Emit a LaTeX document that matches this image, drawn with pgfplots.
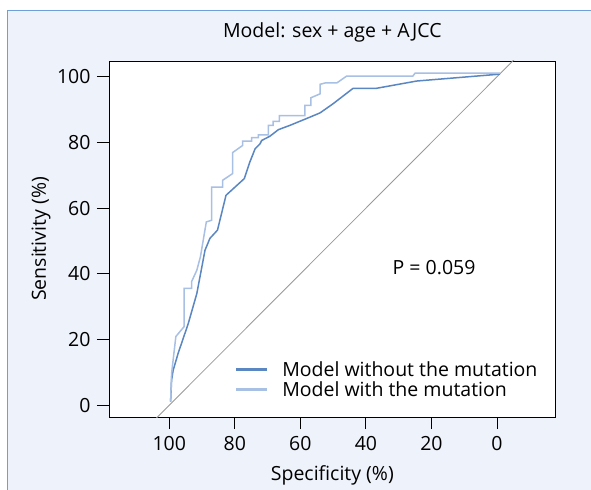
\documentclass[border=0pt]{standalone}
\usepackage{fontspec}
\setmainfont{Open Sans}
\usepackage{pgfplots}
\pgfplotsset{compat=1.18}
\definecolor{panelbg}{HTML}{EEF2FA}
\definecolor{panelrule}{HTML}{6F9FD8}
\definecolor{nomut}{HTML}{5A86C2}
\definecolor{withmut}{HTML}{A8C0E4}
\begin{document}
\begin{tikzpicture}[font=\fontsize{19.5bp}{23bp}\selectfont]
\useasboundingbox (0bp,0bp) rectangle (591bp,490bp);
\fill[panelbg] (7bp,0bp) rectangle (591bp,479bp);
\draw[panelrule, line width=1bp] (7bp,0bp) -- (7bp,479bp) -- (591bp,479bp);
\begin{axis}[
    at={(109bp,73bp)}, anchor=south west,
    scale only axis, width=446.7bp, height=356bp,
    font=\fontsize{19.5bp}{23bp}\selectfont,
    tick label style={font=\fontsize{19.5bp}{23bp}\selectfont},
    xticklabel style={yshift=-4bp},
    yticklabel style={xshift=-3bp},
    x dir=reverse,
    xmin=-17.9, xmax=118.4, ymin=-3.6, ymax=104.8,
    xtick={0,20,...,100}, ytick={0,20,...,100},
    tick pos=left, tick align=outside, major tick length=12bp,
    axis line style={line width=0.9bp},
    tick style={line width=0.9bp, black},
    axis background/.style={fill=white},
    /pgf/number format/assume math mode=true,
    title={Model: sex + age + AJCC},
    title style={at={(axis description cs:0.5,1.048)}, anchor=base},
    xlabel={Specificity (\%)},
    xlabel style={at={(axis description cs:0.5,-0.177)}, anchor=base},
    ylabel={Sensitivity (\%)},
    ylabel style={at={(axis description cs:-0.152,0.5)}, anchor=center},
    legend style={draw=none, fill=none, at={(axis description cs:0.282,0.105)},
        anchor=west, inner sep=0pt, row sep=0.5bp,
        nodes={inner sep=1.5bp, font=\fontsize{19.5bp}{23bp}\selectfont}},
    legend cell align=left,
    legend image code/.code={\draw[#1, line width=2.6bp] (0bp,0bp) -- (31bp,0bp);},
    legend style={/tikz/every odd column/.append style={column sep=12bp}},
]
\addplot[gray!80, line width=0.8bp, forget plot] coordinates {(110,-10) (-20,120)};
\addplot[nomut, line width=1.5bp] coordinates {
    (99.6,1.1) (99.3,7.7) (98.8,10.7) (97.3,15.8) (94.2,24.9) (91.6,34.0)
    (89.1,47.2) (87.6,50.8) (85.3,53.3) (82.7,63.9) (77.1,69.0) (75.4,74.1)
    (73.8,78.1) (72.3,79.6) (71.8,80.6) (69.3,81.9) (66.7,83.9) (63.2,85.2)
    (57.1,87.7) (54.0,89.0) (50.0,91.8) (43.9,96.5) (36.7,96.5) (24.5,98.7)
    (-0.9,100.8)
};
\addplot[withmut, line width=1.5bp] coordinates {
    (99.6,1.1) (99.3,9.7) (98.0,20.9) (95.5,23.9) (95.5,35.6) (93.2,35.6)
    (93.2,37.6) (91.6,41.1) (90.5,45.2) (88.7,55.8) (87.1,56.3) (87.1,66.4)
    (83.7,66.4) (83.7,68.5) (80.7,70.5) (80.7,76.9) (77.6,79.1) (77.6,80.4)
    (74.9,80.4) (74.9,81.5) (72.8,81.5) (72.8,82.3) (69.8,82.3) (69.8,85.2)
    (68.3,85.2) (68.3,86.4) (66.4,86.4) (66.4,88.2) (58.6,88.2) (58.6,91.3)
    (56.8,91.3) (56.8,93.6) (54.0,94.8) (54.0,97.7) (52.5,98.1) (48.9,98.1)
    (45.9,100.2) (25.7,100.2) (25.0,101.1) (-0.9,101.1)
};
\legend{Model without the mutation, Model with the mutation}
\node at (axis cs:19.2,41.9) {P = 0.059};
\end{axis}
\end{tikzpicture}
\end{document}
